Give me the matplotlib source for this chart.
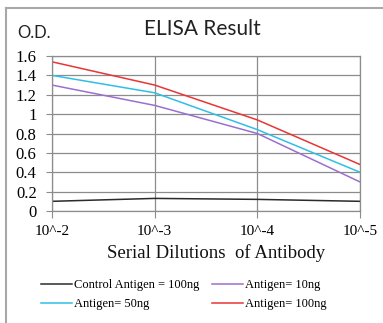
import matplotlib
matplotlib.use("Agg")
import matplotlib.pyplot as plt
from matplotlib.lines import Line2D

# Data
dilutions = ["10^-2", "10^-3", "10^-4", "10^-5"]
control_100ng = [0.10, 0.13, 0.12, 0.10]
antigen_10ng = [1.30, 1.09, 0.80, 0.30]
antigen_50ng = [1.40, 1.22, 0.84, 0.40]
antigen_100ng = [1.54, 1.30, 0.94, 0.48]
y_ticks = [0, 0.2, 0.4, 0.6, 0.8, 1, 1.2, 1.4, 1.6]
y_tick_labels = ["0", "0.2", "0.4", "0.6", "0.8", "1", "1.2", "1.4", "1.6"]

serif = "Liberation Serif"
grid_color = "#8c8c8c"

fig = plt.figure(figsize=(3.83, 3.23), dpi=100)
ax = fig.add_axes([52 / 383, 1 - 211 / 323, 308 / 383, 155 / 323])

x = range(len(dilutions))
l_ctrl, = ax.plot(x, control_100ng, color="#2b2b2b", lw=1.1)
l_10, = ax.plot(x, antigen_10ng, color="#9b6fd0", lw=1.1)
l_50, = ax.plot(x, antigen_50ng, color="#2fbfe6", lw=1.1)
l_100, = ax.plot(x, antigen_100ng, color="#e83535", lw=1.1)

ax.set_xlim(0, 3)
ax.set_ylim(0, 1.6)
ax.set_xticks(list(x))
ax.set_xticklabels(dilutions, fontfamily=serif, fontsize=11)
ax.set_yticks(y_ticks)
ax.set_yticklabels(y_tick_labels, fontfamily=serif, fontsize=12)
ax.tick_params(axis="y", length=4, pad=7, color=grid_color)
ax.tick_params(axis="x", length=5, pad=5, color=grid_color)
ax.grid(True, color=grid_color, lw=0.9)
ax.set_axisbelow(True)
for s in ax.spines.values():
    s.set_color(grid_color)
    s.set_linewidth(0.9)

# axis title
fig.text(216 / 383, 1 - 258 / 323, "Serial Dilutions  of Antibody", fontfamily=serif,
         fontsize=13.5, ha="center", va="baseline", color="#111111")

fig.text(202 / 383, 1 - 29 / 323, "ELISA Result", fontfamily="Lato", fontsize=15,
         ha="center", va="center", color="#222222")
fig.text(17 / 383, 1 - 33 / 323, "O.D.", fontfamily="Lato", fontsize=12,
         ha="left", va="center", color="#222222")

fig.legend([l_ctrl, l_50, l_10, l_100],
           ["Control Antigen = 100ng", "Antigen= 50ng", "Antigen= 10ng", "Antigen= 100ng"],
           ncol=2, loc="center", bbox_to_anchor=(184 / 383, 1 - 294.5 / 323),
           frameon=False, prop={"family": serif, "size": 9},
           handlelength=2.5, handletextpad=0.15, columnspacing=1.0, labelspacing=0.55)

# outer frame (left and top edges only are visible)
fig.add_artist(Line2D([6 / 383, 6 / 383], [0, 1 - 8 / 323], transform=fig.transFigure,
                      color="#a8a8a8", lw=1.5))
fig.add_artist(Line2D([6 / 383, 1], [1 - 8 / 323, 1 - 8 / 323], transform=fig.transFigure,
                      color="#a8a8a8", lw=1.5))

fig.savefig("out.png", dpi=100)
